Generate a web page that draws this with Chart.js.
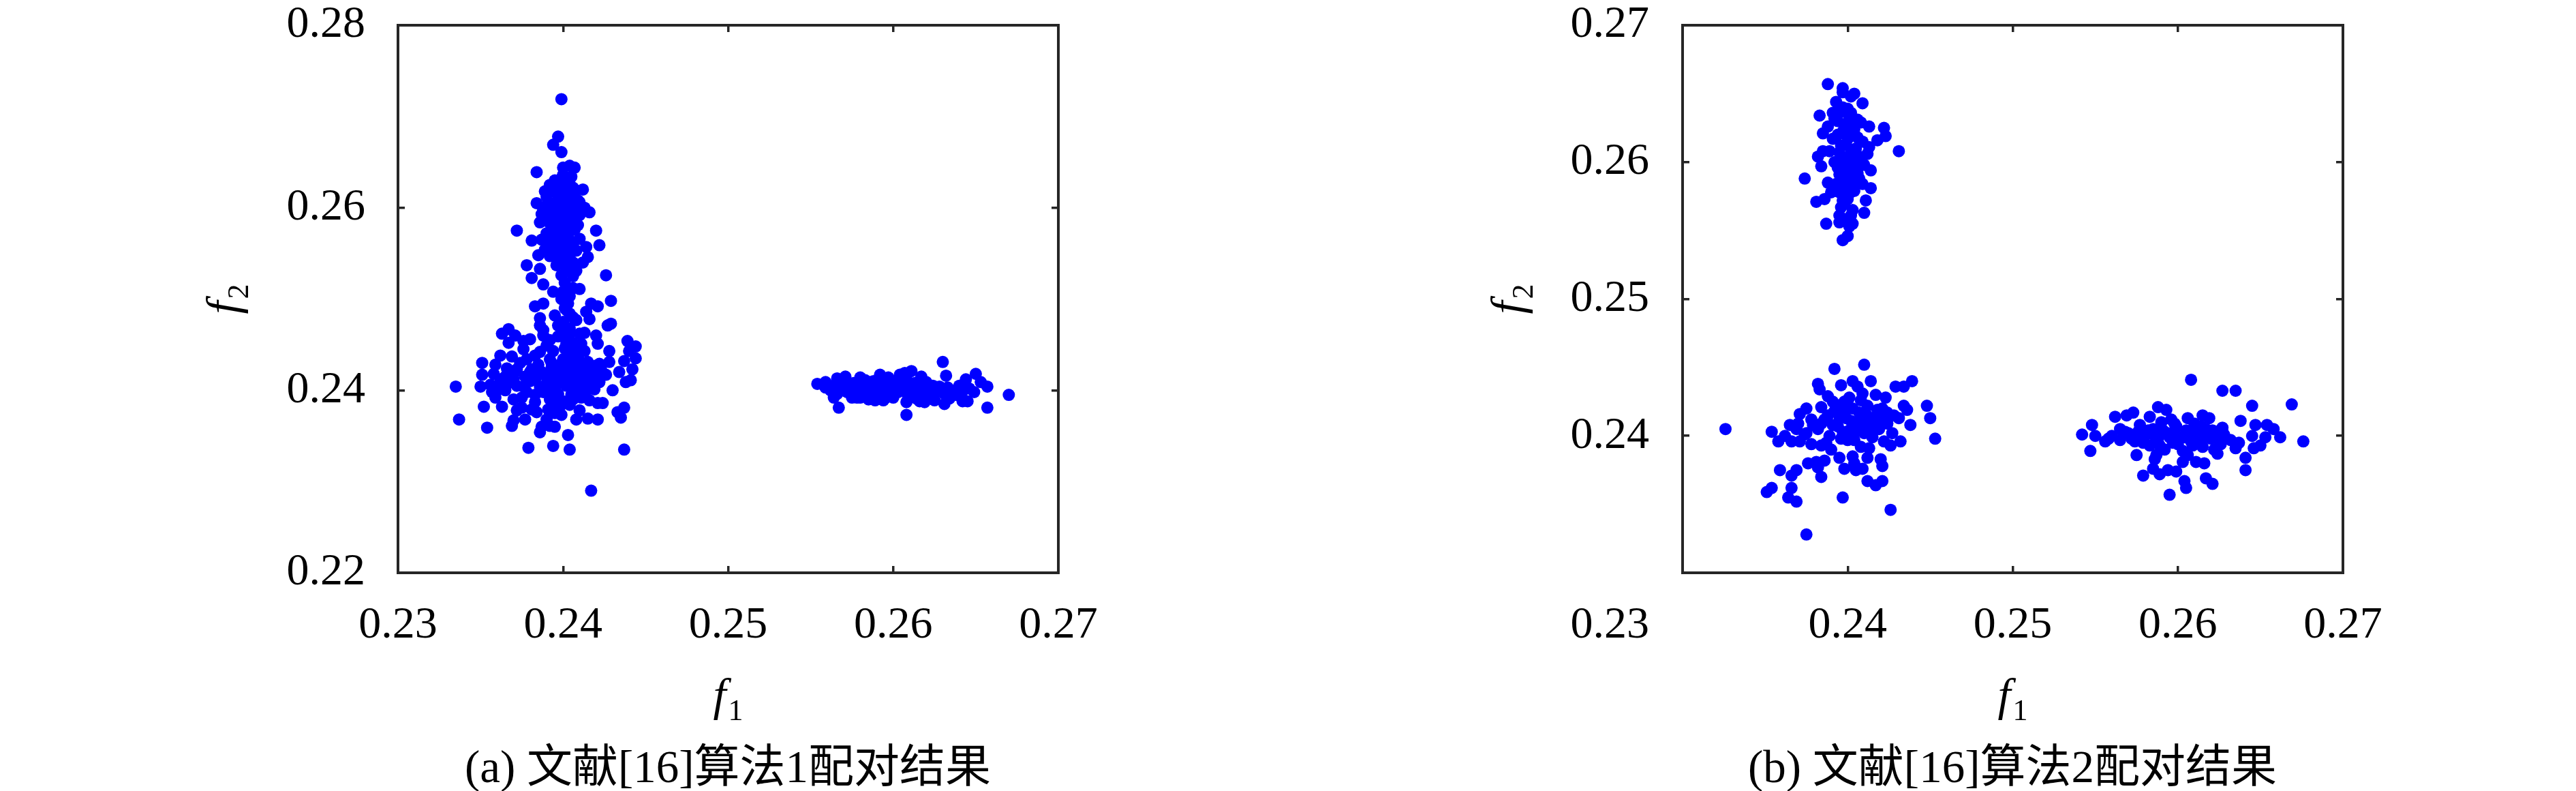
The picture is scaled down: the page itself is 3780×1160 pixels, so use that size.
<!DOCTYPE html>
<html lang="zh-CN">
<head>
<meta charset="utf-8">
<title>文献[16]算法配对结果</title>
<script src="https://cdn.jsdelivr.net/npm/chart.js@4.4.1/dist/chart.umd.min.js"></script>
<style>
  html, body { margin: 0; padding: 0; background: #fff; }
  #wrap { position: relative; width: 3780px; height: 1160px; overflow: hidden; }
  .panel { position: absolute; top: 0; width: 1890px; height: 1160px; }
  .caption {
    position: absolute; top: 1088px; transform: translateX(-50%);
    font: 67px "Liberation Serif", "Noto Sans CJK SC", serif; line-height: 72px;
    color: #000; white-space: nowrap;
  }
</style>
</head>
<body>
<div id="wrap">
  <div class="panel" style="left:0"><canvas id="chartA" width="1890" height="1160"></canvas></div>
  <div class="panel" style="left:1890px"><canvas id="chartB" width="1890" height="1160"></canvas></div>
  <div class="caption" style="left:1068px">(a) 文献[16]算法1配对结果</div>
  <div class="caption" style="left:2953px">(b) 文献[16]算法2配对结果</div>
</div>

<script>
/* ============================================================
   两幅散点图：文献[16]算法1 / 算法2 的配对结果 (f1, f2)
   数据为从原图读出的点坐标
   ============================================================ */

// ---- 图 (a) 轴范围与刻度 ----
const aTicksX = [0.23, 0.24, 0.25, 0.26, 0.27];
const aTicksY = [0.22, 0.24, 0.26, 0.28];

// ---- 图 (b) 轴范围与刻度 ----
const bTicksX = [0.23, 0.24, 0.25, 0.26, 0.27];
const bTicksY = [0.23, 0.24, 0.25, 0.26, 0.27];

// ---- 图 (a)：左侧竖向簇，上部 ----
const aSpire = [
  [0.2399,0.2719],[0.2397,0.2678],[0.2394,0.2669],[0.2399,0.2661],
  [0.2400,0.2644],[0.2404,0.2646],[0.2407,0.2644],[0.2400,0.2636],[0.2384,0.2639],
  [0.2410,0.2606],[0.2416,0.2595],[0.2384,0.2605],[0.2387,0.2593],[0.2372,0.2575],
  [0.2420,0.2575],[0.2422,0.2559],[0.2414,0.2557],[0.2381,0.2564],[0.2387,0.2565],
  [0.2385,0.2548],[0.2389,0.2554],[0.2378,0.2537],[0.2381,0.2523],[0.2386,0.2533],
  [0.2415,0.2546],[0.2412,0.2540],[0.2408,0.2531],[0.2399,0.2526],[0.2406,0.2525],
  [0.2392,0.2625],[0.2398,0.2628],[0.2404,0.2626],[0.2395,0.2618],[0.2401,0.2620],
  [0.2407,0.2617],[0.2390,0.2612],[0.2397,0.2610],[0.2403,0.2612],[0.2409,0.2608],
  [0.2393,0.2603],[0.2400,0.2602],[0.2406,0.2600],[0.2388,0.2598],[0.2396,0.2595],
  [0.2402,0.2593],[0.2410,0.2592],[0.2391,0.2588],[0.2398,0.2586],[0.2405,0.2585],
  [0.2394,0.2579],[0.2400,0.2577],[0.2407,0.2576],[0.2390,0.2572],[0.2397,0.2570],
  [0.2403,0.2568],[0.2410,0.2566],[0.2394,0.2562],[0.2400,0.2560],[0.2406,0.2558],
  [0.2397,0.2553],[0.2403,0.2550],[0.2392,0.2547],[0.2400,0.2543],[0.2406,0.2540],
  [0.2396,0.2537],[0.2402,0.2533],[0.2399,0.2632],[0.2405,0.2634],[0.2395,0.2630],
  [0.2393,0.2622],[0.2399,0.2623],[0.2406,0.2622],[0.2391,0.2606],[0.2398,0.2606],
  [0.2404,0.2605],[0.2408,0.2603],[0.2394,0.2599],[0.2399,0.2597],[0.2405,0.2594],
  [0.2389,0.2592],[0.2396,0.2590],[0.2402,0.2589],[0.2408,0.2589],[0.2392,0.2583],
  [0.2399,0.2581],[0.2404,0.2580],[0.2409,0.2581],[0.2396,0.2575],[0.2402,0.2573],
  [0.2391,0.2566],[0.2398,0.2564],[0.2404,0.2563],[0.2395,0.2557],[0.2401,0.2555],
  [0.2408,0.2553],[0.2398,0.2548],[0.2404,0.2545],[0.2397,0.2541],[0.2402,0.2538],
  [0.2412,0.2620],[0.2389,0.2618],[0.2413,0.2600],[0.2386,0.2584]
];

// ---- 图 (a)：左侧竖向簇，中段 ----
const aStem = [
  [0.2388,0.2516],[0.2394,0.2508],[0.2400,0.2508],[0.2406,0.2512],[0.2410,0.2511],
  [0.2426,0.2526],[0.2429,0.2498],[0.2383,0.2492],[0.2388,0.2495],[0.2403,0.2495],
  [0.2401,0.2490],[0.2417,0.2495],[0.2421,0.2492],[0.2414,0.2486],[0.2416,0.2478],
  [0.2404,0.2484],[0.2408,0.2477],[0.2395,0.2482],[0.2386,0.2479],[0.2386,0.2471],
  [0.2397,0.2471],[0.2427,0.2471],[0.2429,0.2473],[0.2400,0.2467],[0.2413,0.2463],
  [0.2388,0.2460],[0.2397,0.2459],[0.2404,0.2462],[0.2420,0.2460],
  [0.2401,0.2518],[0.2404,0.2503],[0.2399,0.2500],[0.2402,0.2488],[0.2406,0.2480],
  [0.2400,0.2475],[0.2404,0.2468],[0.2402,0.2457],[0.2406,0.2452],[0.2401,0.2446],
  [0.2405,0.2440],[0.2408,0.2447],[0.2392,0.2455],[0.2388,0.2466],[0.2410,0.2462]
];

// ---- 图 (a)：左侧簇，底部 ----
const aBase = [
  [0.2363,0.2462],[0.2367,0.2467],[0.2371,0.2460],[0.2367,0.2452],[0.2380,0.2456],
  [0.2376,0.2454],[0.2376,0.2445],[0.2390,0.2449],[0.2394,0.2443],[0.2402,0.2451],
  [0.2411,0.2451],[0.2421,0.2451],[0.2413,0.2443],[0.2428,0.2443],
  [0.2439,0.2454],[0.2444,0.2448],[0.2440,0.2443],[0.2444,0.2435],[0.2437,0.2432],
  [0.2442,0.2423],[0.2434,0.2420],[0.2438,0.2409],[0.2441,0.2411],[0.2430,0.2400],
  [0.2362,0.2438],[0.2369,0.2437],[0.2351,0.2430],[0.2359,0.2428],[0.2351,0.2417],
  [0.2366,0.2424],[0.2372,0.2423],[0.2378,0.2434],[0.2383,0.2438],[0.2386,0.2442],
  [0.2392,0.2434],[0.2393,0.2424],[0.2399,0.2429],[0.2402,0.2420],[0.2407,0.2429],
  [0.2411,0.2426],[0.2416,0.2424],[0.2422,0.2429],[0.2428,0.2431],[0.2426,0.2417],
  [0.2419,0.2415],[0.2410,0.2413],[0.2403,0.2410],[0.2399,0.2415],[0.2381,0.2423],
  [0.2384,0.2415],[0.2380,0.2410],
  [0.2335,0.2404],[0.2350,0.2404],[0.2356,0.2406],[0.2361,0.2401],[0.2366,0.2407],
  [0.2370,0.2412],[0.2365,0.2400],[0.2376,0.2404],[0.2383,0.2395],[0.2390,0.2407],
  [0.2394,0.2401],[0.2397,0.2396],[0.2405,0.2395],[0.2414,0.2399],[0.2419,0.2401],
  [0.2411,0.2392],[0.2416,0.2389],[0.2421,0.2386],[0.2424,0.2386],
  [0.2359,0.2392],[0.2363,0.2382],[0.2370,0.2390],[0.2375,0.2392],[0.2352,0.2382],
  [0.2337,0.2368],[0.2354,0.2359],[0.2372,0.2378],[0.2375,0.2381],[0.2381,0.2379],
  [0.2384,0.2376],[0.2377,0.2368],[0.2370,0.2367],[0.2369,0.2361],[0.2391,0.2379],
  [0.2394,0.2386],[0.2398,0.2382],[0.2399,0.2373],[0.2390,0.2368],[0.2392,0.2361],
  [0.2395,0.2360],[0.2387,0.2360],[0.2386,0.2354],[0.2404,0.2384],[0.2410,0.2378],
  [0.2408,0.2368],[0.2415,0.2369],[0.2421,0.2368],[0.2433,0.2376],[0.2437,0.2381],
  [0.2435,0.2370],[0.2403,0.2351],[0.2379,0.2337],[0.2394,0.2339],[0.2404,0.2335],
  [0.2437,0.2335],[0.2417,0.2290],
  [0.2400,0.2434],[0.2405,0.2432],[0.2410,0.2430],[0.2415,0.2431],[0.2420,0.2427],
  [0.2402,0.2425],[0.2407,0.2423],[0.2413,0.2421],[0.2418,0.2420],[0.2423,0.2423],
  [0.2400,0.2416],[0.2406,0.2414],[0.2412,0.2411],[0.2417,0.2410],[0.2422,0.2409],
  [0.2402,0.2405],[0.2408,0.2402],[0.2397,0.2423],[0.2395,0.2412],[0.2385,0.2428],
  [0.2380,0.2420],[0.2374,0.2430],[0.2370,0.2418],[0.2362,0.2412],[0.2357,0.2398],
  [0.2378,0.2398],[0.2386,0.2404],[0.2392,0.2390],[0.2400,0.2388],[0.2395,0.2375],
  [0.2403,0.2438],[0.2409,0.2436],[0.2414,0.2427],[0.2419,0.2424],[0.2404,0.2419],
  [0.2409,0.2418],[0.2414,0.2416],[0.2420,0.2414],[0.2425,0.2417],[0.2405,0.2409],
  [0.2411,0.2406],[0.2416,0.2404],[0.2398,0.2408],[0.2390,0.2415],[0.2387,0.2420],
  [0.2377,0.2415],[0.2372,0.2405],[0.2365,0.2415],[0.2358,0.2418],[0.2383,0.2387],
  [0.2388,0.2398],[0.2406,0.2390],[0.2393,0.2430]
];

// ---- 图 (a)：右侧横向簇 ----
const aBar = [
  [0.2554,0.2407],[0.2559,0.2409],[0.2559,0.2403],[0.2566,0.2413],[0.2566,0.2403],
  [0.2564,0.2392],[0.2567,0.2381],[0.2571,0.2415],[0.2575,0.2392],[0.2580,0.2414],
  [0.2580,0.2392],[0.2585,0.2409],[0.2589,0.2389],[0.2592,0.2417],[0.2597,0.2414],
  [0.2594,0.2389],[0.2604,0.2417],[0.2607,0.2419],[0.2611,0.2421],[0.2617,0.2415],
  [0.2608,0.2387],[0.2608,0.2373],[0.2616,0.2388],[0.2619,0.2387],[0.2624,0.2405],
  [0.2625,0.2389],[0.2630,0.2431],[0.2632,0.2416],[0.2631,0.2385],[0.2634,0.2391],
  [0.2640,0.2405],[0.2642,0.2388],[0.2644,0.2412],[0.2645,0.2388],[0.2649,0.2398],
  [0.2650,0.2418],[0.2653,0.2409],[0.2657,0.2404],[0.2657,0.2381],[0.2670,0.2395],
  [0.2562,0.2400],[0.2568,0.2406],[0.2572,0.2398],[0.2576,0.2408],[0.2580,0.2401],
  [0.2584,0.2396],[0.2586,0.2406],[0.2590,0.2400],[0.2593,0.2409],[0.2596,0.2395],
  [0.2598,0.2403],[0.2601,0.2410],[0.2603,0.2398],[0.2605,0.2405],[0.2608,0.2412],
  [0.2609,0.2394],[0.2611,0.2402],[0.2613,0.2408],[0.2615,0.2397],[0.2618,0.2403],
  [0.2621,0.2395],[0.2623,0.2401],[0.2626,0.2398],[0.2628,0.2404],[0.2631,0.2396],
  [0.2635,0.2400],[0.2638,0.2395],[0.2642,0.2399],[0.2646,0.2402],[0.2566,0.2396],
  [0.2578,0.2392],[0.2588,0.2410],[0.2600,0.2392],[0.2614,0.2391],[0.2620,0.2409],
  [0.2597,0.2412],[0.2583,0.2411],
  [0.2564,0.2405],[0.2570,0.2400],[0.2574,0.2404],[0.2578,0.2397],[0.2582,0.2405],
  [0.2587,0.2402],[0.2591,0.2395],[0.2594,0.2405],[0.2599,0.2399],[0.2602,0.2406],
  [0.2606,0.2400],[0.2610,0.2398],[0.2612,0.2405],[0.2616,0.2400],[0.2619,0.2406],
  [0.2622,0.2399],[0.2625,0.2404],[0.2629,0.2399],[0.2633,0.2403],[0.2637,0.2398],
  [0.2640,0.2402],[0.2606,0.2409],[0.2595,0.2391],[0.2585,0.2390]
];

// ---- 图 (b)：左上簇 ----
const bTop = [
  [0.2388,0.2657],[0.2397,0.2654],[0.2397,0.2651],[0.2404,0.2650],[0.2402,0.2648],
  [0.2393,0.2644],[0.2409,0.2643],[0.2400,0.2639],[0.2383,0.2634],[0.2391,0.2636],
  [0.2392,0.2632],[0.2388,0.2626],[0.2385,0.2621],[0.2408,0.2629],[0.2413,0.2626],
  [0.2422,0.2625],[0.2423,0.2619],[0.2418,0.2616],[0.2413,0.2611],[0.2431,0.2608],
  [0.2385,0.2608],[0.2382,0.2604],[0.2384,0.2597],[0.2374,0.2588],[0.2414,0.2594],
  [0.2388,0.2585],[0.2414,0.2581],[0.2409,0.2584],[0.2390,0.2578],[0.2381,0.2571],
  [0.2386,0.2573],[0.2397,0.2572],[0.2411,0.2572],[0.2410,0.2563],[0.2395,0.2561],
  [0.2387,0.2555],[0.2395,0.2556],[0.2401,0.2553],[0.2403,0.2555],[0.2400,0.2546],
  [0.2397,0.2543],
  [0.2397,0.2640],[0.2402,0.2636],[0.2394,0.2630],[0.2400,0.2628],[0.2406,0.2631],
  [0.2397,0.2622],[0.2403,0.2620],[0.2391,0.2617],[0.2409,0.2615],[0.2399,0.2613],
  [0.2395,0.2607],[0.2402,0.2605],[0.2407,0.2604],[0.2392,0.2600],[0.2398,0.2598],
  [0.2404,0.2596],[0.2410,0.2598],[0.2395,0.2591],[0.2401,0.2589],[0.2407,0.2588],
  [0.2393,0.2584],[0.2398,0.2581],[0.2404,0.2579],[0.2400,0.2573],[0.2396,0.2567],
  [0.2403,0.2565],[0.2399,0.2558],[0.2405,0.2610],[0.2389,0.2608],[0.2412,0.2606],
  [0.2395,0.2636],[0.2401,0.2632],[0.2398,0.2625],[0.2404,0.2624],[0.2394,0.2620],
  [0.2400,0.2617],[0.2406,0.2618],[0.2396,0.2612],[0.2402,0.2609],[0.2398,0.2603],
  [0.2404,0.2601],[0.2394,0.2596],[0.2400,0.2593],[0.2406,0.2592],[0.2397,0.2587],
  [0.2403,0.2585],[0.2395,0.2578],[0.2401,0.2577],[0.2398,0.2570],[0.2402,0.2561]
];

// ---- 图 (b)：左下簇 ----
const bLow = [
  [0.2326,0.2405],[0.2354,0.2403],[0.2358,0.2396],[0.2365,0.2408],[0.2369,0.2405],
  [0.2371,0.2416],[0.2375,0.2420],[0.2382,0.2438],[0.2383,0.2434],[0.2392,0.2449],
  [0.2410,0.2452],[0.2414,0.2440],[0.2403,0.2440],[0.2396,0.2437],[0.2406,0.2436],
  [0.2409,0.2431],[0.2388,0.2429],[0.2391,0.2425],[0.2384,0.2421],[0.2397,0.2421],
  [0.2401,0.2428],[0.2417,0.2430],[0.2423,0.2428],[0.2429,0.2436],[0.2434,0.2436],
  [0.2439,0.2440],[0.2434,0.2422],[0.2436,0.2419],[0.2448,0.2422],[0.2450,0.2413],
  [0.2453,0.2398],[0.2438,0.2408],[0.2431,0.2413],[0.2424,0.2417],[0.2432,0.2396],
  [0.2426,0.2393],[0.2422,0.2396],[0.2413,0.2391],[0.2412,0.2384],[0.2403,0.2385],
  [0.2395,0.2384],[0.2404,0.2380],[0.2398,0.2376],[0.2405,0.2375],[0.2409,0.2376],
  [0.2420,0.2383],[0.2421,0.2378],[0.2412,0.2367],[0.2417,0.2364],[0.2421,0.2367],
  [0.2376,0.2380],[0.2381,0.2381],[0.2386,0.2382],[0.2382,0.2377],[0.2384,0.2370],
  [0.2359,0.2375],[0.2366,0.2371],[0.2369,0.2375],[0.2354,0.2362],[0.2351,0.2359],
  [0.2366,0.2362],[0.2364,0.2355],[0.2369,0.2352],[0.2397,0.2355],[0.2426,0.2346],
  [0.2375,0.2328],[0.2371,0.2396],[0.2378,0.2394],[0.2384,0.2393],[0.2387,0.2395],
  [0.2374,0.2401],[0.2379,0.2408],
  [0.2382,0.2405],[0.2386,0.2412],[0.2389,0.2400],[0.2392,0.2418],[0.2394,0.2407],
  [0.2396,0.2398],[0.2398,0.2425],[0.2399,0.2413],[0.2401,0.2404],[0.2403,0.2420],
  [0.2404,0.2397],[0.2406,0.2410],[0.2408,0.2426],[0.2410,0.2402],[0.2411,0.2416],
  [0.2413,0.2408],[0.2415,0.2399],[0.2417,0.2414],[0.2419,0.2405],[0.2421,0.2420],
  [0.2424,0.2409],[0.2427,0.2402],[0.2375,0.2402],[0.2370,0.2409],[0.2378,0.2412],
  [0.2390,0.2390],[0.2408,0.2392],[0.2362,0.2400],[0.2366,0.2396],[0.2428,0.2415],
  [0.2388,0.2415],[0.2391,0.2408],[0.2395,0.2414],[0.2397,0.2403],[0.2400,0.2420],
  [0.2402,0.2411],[0.2405,0.2403],[0.2407,0.2417],[0.2409,0.2409],[0.2412,0.2422],
  [0.2414,0.2413],[0.2416,0.2406],[0.2418,0.2419],[0.2420,0.2410],[0.2423,0.2415],
  [0.2400,0.2397],[0.2393,0.2422],[0.2384,0.2409]
];

// ---- 图 (b)：右下簇 ----
const bRight = [
  [0.2542,0.2401],[0.2548,0.2408],[0.2550,0.2400],[0.2547,0.2389],[0.2558,0.2398],
  [0.2562,0.2414],[0.2569,0.2415],[0.2573,0.2417],[0.2588,0.2421],[0.2593,0.2419],
  [0.2608,0.2441],[0.2627,0.2433],[0.2635,0.2433],[0.2645,0.2422],[0.2669,0.2423],
  [0.2676,0.2396],[0.2638,0.2411],[0.2647,0.2408],[0.2654,0.2408],[0.2658,0.2405],
  [0.2662,0.2399],[0.2653,0.2399],[0.2645,0.2400],[0.2650,0.2393],[0.2646,0.2391],
  [0.2635,0.2391],[0.2637,0.2395],[0.2641,0.2384],[0.2641,0.2375],[0.2627,0.2406],
  [0.2624,0.2387],[0.2616,0.2380],[0.2611,0.2381],[0.2603,0.2381],[0.2599,0.2374],
  [0.2594,0.2375],[0.2589,0.2372],[0.2585,0.2376],[0.2579,0.2371],[0.2604,0.2367],
  [0.2605,0.2362],[0.2595,0.2357],[0.2617,0.2369],[0.2621,0.2365],[0.2575,0.2386],
  [0.2586,0.2383],[0.2565,0.2397],[0.2568,0.2403],[0.2583,0.2414],[0.2606,0.2413],
  [0.2615,0.2415],[0.2619,0.2413],
  [0.2570,0.2402],[0.2574,0.2396],[0.2577,0.2408],[0.2580,0.2400],[0.2583,0.2393],
  [0.2585,0.2405],[0.2588,0.2398],[0.2590,0.2410],[0.2592,0.2390],[0.2594,0.2402],
  [0.2597,0.2395],[0.2599,0.2407],[0.2601,0.2399],[0.2603,0.2389],[0.2605,0.2404],
  [0.2608,0.2396],[0.2610,0.2409],[0.2612,0.2400],[0.2615,0.2392],[0.2617,0.2405],
  [0.2620,0.2398],[0.2623,0.2403],[0.2626,0.2394],[0.2628,0.2401],[0.2632,0.2397],
  [0.2565,0.2405],[0.2560,0.2400],[0.2556,0.2396],[0.2587,0.2386],[0.2606,0.2386],
  [0.2596,0.2412],[0.2622,0.2390],
  [0.2572,0.2398],[0.2576,0.2403],[0.2579,0.2395],[0.2582,0.2404],[0.2586,0.2400],
  [0.2589,0.2393],[0.2591,0.2404],[0.2595,0.2399],[0.2598,0.2403],[0.2600,0.2394],
  [0.2604,0.2399],[0.2607,0.2403],[0.2609,0.2393],[0.2611,0.2404],[0.2614,0.2398],
  [0.2618,0.2401],[0.2621,0.2404],[0.2624,0.2398],[0.2627,0.2403],[0.2598,0.2409],
  [0.2614,0.2407]
];

/* ---------------- 样式 ---------------- */
const SERIF = '"Liberation Serif", "DejaVu Serif", serif';
const AXIS_COLOR = '#262626';
const DOT_COLOR = '#0000ff';
const TICK_LEN = -10;       // 负值：刻度线朝内 (MATLAB 风格)
const TICK_FONT = 66;

const toPts = (arr) => arr.map(([x, y]) => ({ x, y }));
const fmtTick = (v) => Number(v).toFixed(2);

// 斜体 f 加下标
function drawSubLabel(ctx, cx, baseY, sub) {
  ctx.font = `italic 68px ${SERIF}`;
  const wf = ctx.measureText('f').width;
  ctx.font = `44px ${SERIF}`;
  const ws = ctx.measureText(sub).width;
  const x0 = cx - (wf + ws + 3) / 2;
  ctx.textAlign = 'left';
  ctx.textBaseline = 'alphabetic';
  ctx.font = `italic 68px ${SERIF}`;
  ctx.fillText('f', x0, baseY);
  ctx.font = `44px ${SERIF}`;
  ctx.fillText(sub, x0 + wf + 3, baseY + 14);
}

const axisLabels = {
  id: 'axisLabels',
  afterDraw(chart, args, opts) {
    const ctx = chart.ctx;
    const ca = chart.chartArea;
    ctx.save();
    ctx.fillStyle = '#000';
    drawSubLabel(ctx, (ca.left + ca.right) / 2, 1042, '1');
    ctx.save();
    ctx.translate(ca.left - opts.yTitleGap, (ca.top + ca.bottom) / 2);
    ctx.rotate(-Math.PI / 2);
    drawSubLabel(ctx, 0, 0, '2');
    ctx.restore();
    // 图 (b) 左下角单独放置的 0.23
    if (opts.cornerLabel) {
      const ys = chart.scales.y, xs = chart.scales.x;
      ctx.font = `${TICK_FONT}px ${SERIF}`;
      ctx.textAlign = 'right';
      ctx.textBaseline = 'middle';
      ctx.fillText(opts.cornerLabel, ys.right - (TICK_LEN + opts.yPad), xs.top + TICK_LEN + opts.xPad + TICK_FONT * 0.6);
    }
    ctx.restore();
  }
};

function edgeScale(pos, min, max, step, showLabels, hideFirst, size, pad) {
  return {
    type: 'linear', position: pos, min, max,
    ticks: {
      display: showLabels, stepSize: step, autoSkip: false, maxRotation: 0,
      padding: pad, color: '#000', font: { family: SERIF, size: TICK_FONT },
      callback: (v) => (hideFirst && Math.abs(v - min) < 1e-6) ? '' : fmtTick(v)
    },
    grid: { drawOnChartArea: false, drawTicks: true, tickLength: TICK_LEN, color: AXIS_COLOR, lineWidth: 3.5 },
    border: { display: true, color: AXIS_COLOR, width: 4 },
    afterFit: (s) => {
      if (pos === 'left' || pos === 'right') s.width = size; else s.height = size;
      s.paddingTop = 0; s.paddingBottom = 0; s.paddingLeft = 0; s.paddingRight = 0;
    }
  };
}

function crearGrafica(id, puntos, cfg) {
  return new Chart(document.getElementById(id).getContext('2d'), {
    type: 'scatter',
    data: {
      datasets: [{
        data: puntos,
        pointRadius: 9, pointHoverRadius: 9,
        pointBackgroundColor: DOT_COLOR, pointBorderWidth: 0, pointBorderColor: DOT_COLOR
      }]
    },
    options: {
      responsive: false, animation: false, devicePixelRatio: 1,
      layout: { padding: { top: 37, right: cfg.padRight, left: 0, bottom: 0 } },
      plugins: { legend: { display: false }, tooltip: { enabled: false }, axisLabels: cfg.labels },
      events: [],
      scales: {
        x: edgeScale('bottom', cfg.xs[0], cfg.xs[cfg.xs.length - 1], 0.01, true, cfg.hideFirst, 320, 48),
        x2: edgeScale('top', cfg.xs[0], cfg.xs[cfg.xs.length - 1], 0.01, false, false, 0, 0),
        y: edgeScale('left', cfg.ys[0], cfg.ys[cfg.ys.length - 1], cfg.yStep, true, cfg.hideFirst, cfg.yWidth, cfg.yPad),
        y2: edgeScale('right', cfg.ys[0], cfg.ys[cfg.ys.length - 1], cfg.yStep, false, false, 0, 0)
      }
    },
    plugins: [axisLabels]
  });
}

// ---- (a) ----
crearGrafica('chartA', toPts([...aSpire, ...aStem, ...aBase, ...aBar]), {
  xs: aTicksX, ys: aTicksY, yStep: 0.02, hideFirst: false,
  yWidth: 584, yPad: 58, padRight: 1890 - 1553,
  labels: { yTitleGap: 234 }
});

// ---- (b) ----
crearGrafica('chartB', toPts([...bTop, ...bLow, ...bRight]), {
  xs: bTicksX, ys: bTicksY, yStep: 0.01, hideFirst: true,
  yWidth: 579, yPad: 59, padRight: 1890 - 1548,
  labels: { yTitleGap: 234, cornerLabel: fmtTick(bTicksX[0]), yPad: 59, xPad: 48 }
});
</script>
</body>
</html>
